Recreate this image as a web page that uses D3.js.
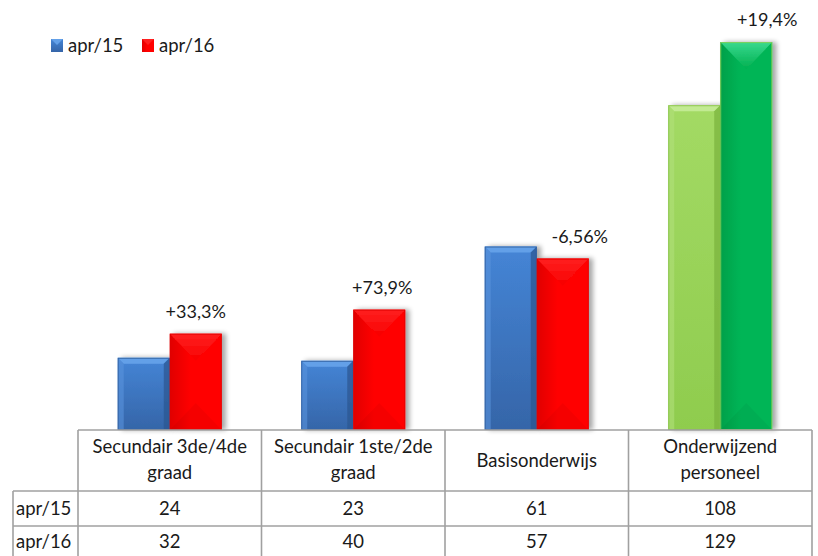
<!DOCTYPE html>
<html><head><meta charset="utf-8">
<script src="https://cdn.jsdelivr.net/npm/d3@7"></script>
<style>
body{margin:0;background:#fff}
svg{display:block}
text{font-family:Lato,"Open Sans",sans-serif;fill:#1a1a1a}
</style>
</head><body>
<svg id="c" width="818" height="556"></svg>
<script>
// ---------- data ----------
const categories = ["Secundair 3de/4de graad","Secundair 1ste/2de graad","Basisonderwijs","Onderwijzend personeel"];
const categoryLines = [["Secundair 3de/4de","graad"],["Secundair 1ste/2de","graad"],["Basisonderwijs"],["Onderwijzend","personeel"]];
const seriesNames = ["apr/15","apr/16"];
const apr15 = [24,23,61,108];
const apr16 = [32,40,57,129];
const changeLabels = ["+33,3%","+73,9%","-6,56%","+19,4%"];
const axisMax = 140;

// ---------- layout ----------
const svg = d3.select("#c");
const plotL = 78, plotR = 812, base = 430, plotTop = 9;
const rowHeaderL = 13;
const rowYs = [430, 491, 526, 561];
const labelNudge = [0, 3, 17, 21];

const x0 = d3.scaleBand().domain(categories).range([plotL, plotR]).paddingInner(0).paddingOuter(0);
const x1 = d3.scaleBand().domain(seriesNames).range([0, x0.bandwidth()]).paddingInner(0).paddingOuter(0.764);
const y = d3.scaleLinear().domain([0, axisMax]).range([base, plotTop]);

const values = {"apr/15": apr15, "apr/16": apr16};

// palettes
const pal = {
  blue:  {top:"#63a0e8", main1:"#4585d6", main2:"#3565a8", edgeL:"#5a93dc", edgeR:"#2b5590", stroke:"#2f5e9c", style:"flat"},
  red:   {main1:"#e00000", main2:"#ff0000", tri:"#ff2020", triB:"#f80000", stroke:"#e00000", style:"angle"},
  lgreen:{top:"#c2ea92", main1:"#a3da64", main2:"#8fcc4e", edgeL:"#b0e07a", edgeR:"#79b23c", stroke:"#86c046", style:"flat"},
  dgreen:{main1:"#00a04a", main2:"#00b556", tri:"#3ad98e", triB:"#00b050", stroke:"#8dcf4f", style:"angle"}
};
function paletteKey(ci, s){
  if (ci === categories.length - 1) return s === "apr/15" ? "lgreen" : "dgreen";
  return s === "apr/15" ? "blue" : "red";
}

const defs = svg.append("defs");
const f = defs.append("filter").attr("id","sh").attr("x","-20%").attr("y","-10%").attr("width","150%").attr("height","130%");
f.append("feGaussianBlur").attr("in","SourceAlpha").attr("stdDeviation",2.5).attr("result","b");
f.append("feOffset").attr("in","b").attr("dx",4).attr("dy",0).attr("result","o");
f.append("feComponentTransfer").attr("in","o").attr("result","o2").append("feFuncA").attr("type","linear").attr("slope",0.35);
const m = f.append("feMerge"); m.append("feMergeNode").attr("in","o2"); m.append("feMergeNode").attr("in","SourceGraphic");

Object.entries(pal).forEach(([k,p])=>{
  if (p.style === "flat"){
    const g = defs.append("linearGradient").attr("id","g_"+k).attr("x1",0).attr("y1",0).attr("x2",0).attr("y2",1);
    g.append("stop").attr("offset","0%").attr("stop-color",p.main1);
    g.append("stop").attr("offset","100%").attr("stop-color",p.main2);
  } else {
    const g = defs.append("linearGradient").attr("id","g_"+k).attr("x1",0).attr("y1",0).attr("x2",1).attr("y2",0);
    g.append("stop").attr("offset","0%").attr("stop-color",p.main1);
    g.append("stop").attr("offset","40%").attr("stop-color",p.main2);
    g.append("stop").attr("offset","100%").attr("stop-color",p.main2);
    const t = defs.append("linearGradient").attr("id","t_"+k).attr("x1",0).attr("y1",0).attr("x2",0).attr("y2",1);
    t.append("stop").attr("offset","0%").attr("stop-color",p.tri);
    t.append("stop").attr("offset","100%").attr("stop-color",p.triB);
  }
});

function drawBar(g, bx, by, bw, bh, key){
  const p = pal[key];
  const grp = g.append("g").attr("filter","url(#sh)");
  grp.append("rect").attr("x",bx).attr("y",by).attr("width",bw).attr("height",bh).attr("fill","url(#g_"+key+")");
  if (p.style === "flat"){
    const d = 6;
    grp.append("path").attr("d",`M${bx},${by}L${bx+bw},${by}L${bx+bw-d},${by+d}L${bx+d},${by+d}Z`).attr("fill",p.top);
    grp.append("path").attr("d",`M${bx},${by}L${bx+d},${by+d}L${bx+d},${by+bh}L${bx},${by+bh}Z`).attr("fill",p.edgeL).attr("opacity",0.6);
    grp.append("path").attr("d",`M${bx+bw},${by}L${bx+bw-d},${by+d}L${bx+bw-d},${by+bh}L${bx+bw},${by+bh}Z`).attr("fill",p.edgeR).attr("opacity",0.7);
  } else {
    const d = Math.min(bw*0.52, bh/2);
    const cx = bx + bw/2;
    grp.append("path").attr("d",`M${bx},${by}L${bx+bw},${by}L${cx},${by+d}Z`).attr("fill","url(#t_"+key+")");
    grp.append("path").attr("d",`M${bx},${by+bh}L${bx+bw},${by+bh}L${cx},${by+bh-d}Z`).attr("fill","#000").attr("opacity",0.04);
  }
  grp.append("rect").attr("x",bx+0.5).attr("y",by+0.5).attr("width",bw-1).attr("height",bh-1)
    .attr("fill","none").attr("stroke",p.stroke).attr("stroke-width",1).attr("opacity",0.8);
}

const bars = svg.append("g");
categories.forEach((c, ci)=>{
  seriesNames.forEach(s=>{
    const v = values[s][ci];
    const bx = x0(c) + x1(s), bw = x1.bandwidth();
    drawBar(bars, bx, y(v), bw, base - y(v), paletteKey(ci, s));
  });
  const lx = x0(c) + x1("apr/16") + x1.bandwidth()/2 + labelNudge[ci];
  svg.append("text").attr("x",lx).attr("y",y(apr16[ci]) - 16).attr("text-anchor","middle")
    .attr("font-size",18).text(changeLabels[ci]);
});

// ---------- data table ----------
const tbl = svg.append("g").attr("stroke","#a0a0a0").attr("stroke-width",1.6).attr("fill","none");
tbl.append("line").attr("x1",plotL).attr("x2",plotR).attr("y1",rowYs[0]).attr("y2",rowYs[0]);
tbl.append("line").attr("x1",rowHeaderL).attr("x2",plotR).attr("y1",rowYs[1]).attr("y2",rowYs[1]);
tbl.append("line").attr("x1",rowHeaderL).attr("x2",plotR).attr("y1",rowYs[2]).attr("y2",rowYs[2]);
tbl.append("line").attr("x1",rowHeaderL).attr("x2",plotR).attr("y1",rowYs[3]).attr("y2",rowYs[3]);
tbl.append("line").attr("x1",rowHeaderL).attr("x2",rowHeaderL).attr("y1",rowYs[1]).attr("y2",rowYs[3]);
categories.forEach(c=>{
  tbl.append("line").attr("x1",x0(c)).attr("x2",x0(c)).attr("y1",rowYs[0]).attr("y2",rowYs[3]);
});
tbl.append("line").attr("x1",plotR).attr("x2",plotR).attr("y1",rowYs[0]).attr("y2",rowYs[3]);

const fs = 18.5;
categories.forEach((c, ci)=>{
  const cx = x0(c) + x0.bandwidth()/2;
  const lines = categoryLines[ci];
  const t = svg.append("text").attr("text-anchor","middle").attr("font-size",fs);
  if (lines.length === 2){
    t.append("tspan").attr("x",cx).attr("y",453).text(lines[0]);
    t.append("tspan").attr("x",cx).attr("y",479).text(lines[1]);
  } else {
    t.append("tspan").attr("x",cx).attr("y",467).text(lines[0]);
  }
  seriesNames.forEach((s, si)=>{
    svg.append("text").attr("x",cx).attr("y",[515,548][si]).attr("text-anchor","middle")
      .attr("font-size",fs).text(values[s][ci]);
  });
});
seriesNames.forEach((s, si)=>{
  svg.append("text").attr("x",16).attr("y",[515,548][si]).attr("font-size",fs).text(s);
});

// ---------- legend ----------
const legX = [51, 142];
seriesNames.forEach((s, si)=>{
  const key = si === 0 ? "blue" : "red";
  const p = pal[key];
  const g = svg.append("g");
  g.append("rect").attr("x",legX[si]).attr("y",39).attr("width",12).attr("height",13).attr("fill","url(#g_"+key+")");
  g.append("path").attr("d",`M${legX[si]},39L${legX[si]+12},39L${legX[si]+6},45Z`).attr("fill",si===0?p.top:p.tri);
  g.append("text").attr("x",legX[si]+17).attr("y",52).attr("font-size",18.5).text(s);
});
</script>
</body></html>
